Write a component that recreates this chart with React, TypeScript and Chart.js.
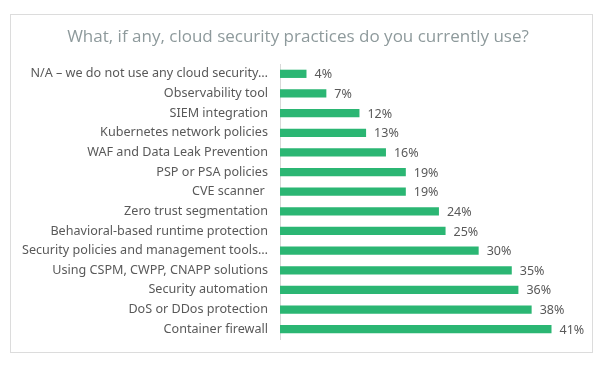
import React, { useEffect, useRef } from "react";
import { Chart, registerables } from "chart.js";

Chart.register(...registerables);

const titleText = "What, if any, cloud security practices do you currently use?";
const categories = [
  "N/A – we do not use any cloud security…",
  "Observability tool",
  "SIEM integration",
  "Kubernetes network policies",
  "WAF and Data Leak Prevention",
  "PSP or PSA policies",
  "CVE scanner ",
  "Zero trust segmentation",
  "Behavioral-based runtime protection",
  "Security policies and management tools…",
  "Using CSPM, CWPP, CNAPP solutions",
  "Security automation",
  "DoS or DDos protection",
  "Container firewall",
];
const values = [4, 7, 12, 13, 16, 19, 19, 24, 25, 30, 35, 36, 38, 41];

const LABEL_FONT = "'Noto Sans', sans-serif";

export default function App() {
  const ref = useRef<HTMLCanvasElement | null>(null);
  useEffect(() => {
    document.body.style.margin = "0";
    const ctx = ref.current!;
    const overlay = {
      id: "overlay",
      afterDraw(chart: any) {
        const c = chart.ctx;
        c.save();
        c.fillStyle = "#8e9a9c";
        c.font = "17px 'Open Sans', sans-serif";
        c.textAlign = "center";
        c.textBaseline = "middle";
        c.fillText(titleText, 298, 37);
        const meta = chart.getDatasetMeta(0);
        c.fillStyle = "#595959";
        c.font = "12.5px " + LABEL_FONT;
        c.textAlign = "left";
        meta.data.forEach((bar: any, i: number) => {
          c.fillText(values[i] + "%", bar.x + 8, bar.y + 1);
        });
        c.restore();
      },
    };
    const chart = new Chart(ctx, {
      type: "bar",
      data: {
        labels: categories,
        datasets: [
          {
            data: values,
            backgroundColor: "#2bb673",
            barPercentage: 0.42,
            categoryPercentage: 1,
          },
        ],
      },
      options: {
        indexAxis: "y",
        animation: false,
        responsive: false,
        maintainAspectRatio: false,
        layout: { padding: { left: 0, right: 27, top: 64, bottom: 35 } },
        plugins: { legend: { display: false }, tooltip: { enabled: false }, title: { display: false } },
        scales: {
          x: { display: false, min: 0, max: 45 },
          y: {
            afterFit(scale: any) {
              scale.width = 280;
            },
            grid: { display: false, drawTicks: false },
            border: { display: true, color: "#d9d9d9", width: 1 },
            ticks: {
              padding: 12,
              color: "#595959",
              font: { family: LABEL_FONT, size: 12.6 },
              autoSkip: false,
            },
          },
        },
      },
      plugins: [overlay],
    });
    return () => chart.destroy();
  }, []);
  return (
    <div style={{ position: "relative", width: 605, height: 374, background: "#fff" }}>
      <div
        style={{
          position: "absolute",
          left: 10,
          top: 14,
          width: 583,
          height: 339,
          boxSizing: "border-box",
          border: "1.5px solid #dcdcdc",
        }}
      />
      <canvas ref={ref} width={605} height={374} style={{ position: "absolute", left: 0, top: 0 }} />
    </div>
  );
}
